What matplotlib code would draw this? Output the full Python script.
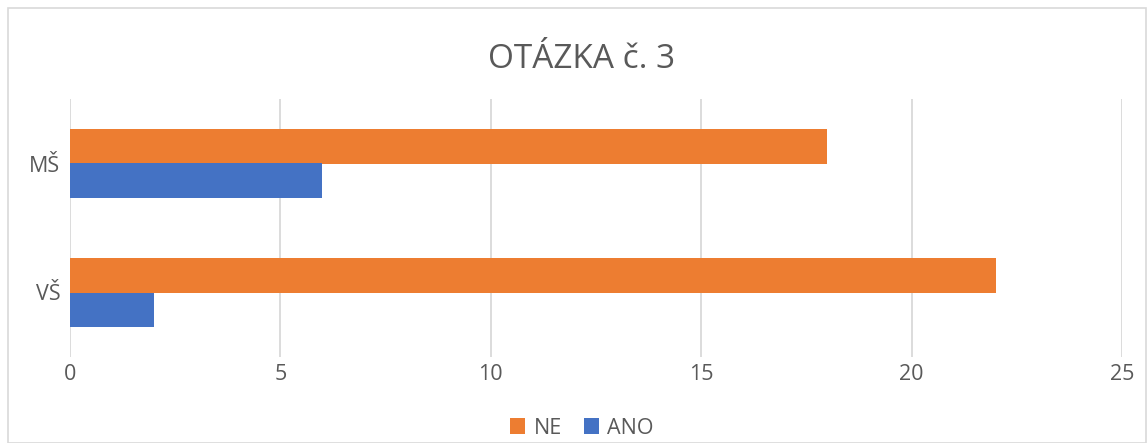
import matplotlib.pyplot as plt
from matplotlib.patches import Rectangle

categories = ['VŠ', 'MŠ']
ne_values = [22, 18]
ano_values = [2, 6]
x_ticks = [0, 5, 10, 15, 20, 25]

plt.rcParams['font.family'] = ['Open Sans', 'DejaVu Sans']
text_color = '#595959'

fig = plt.figure(figsize=(11.47, 4.43), dpi=100)
ax = fig.add_axes([70 / 1147, (443 - 357) / 443, (1122 - 70) / 1147, 258 / 443])

h = 0.264
pos = list(range(len(categories)))
ax.barh([p + h / 2 for p in pos], ne_values, height=h, color='#ED7D31', label='NE', zorder=3)
ax.barh([p - h / 2 for p in pos], ano_values, height=h, color='#4472C4', label='ANO', zorder=3)

ax.set_xlim(0, 25)
ax.set_ylim(-0.5, 1.5)
ax.set_xticks(x_ticks)
ax.set_yticks(pos)
ax.set_yticklabels(categories)
ax.tick_params(axis='both', length=0, labelsize=15.5, colors=text_color)
ax.tick_params(axis='x', pad=5)
ax.tick_params(axis='y', pad=7)
ax.grid(axis='x', color='#D9D9D9', linewidth=1.3, zorder=0)
for s in ax.spines.values():
    s.set_visible(False)

fig.text(582 / 1147, 1 - 60 / 443, 'OTÁZKA č. 3', ha='center', va='center',
         fontsize=24, color=text_color)

handles, labels = ax.get_legend_handles_labels()
fig.legend(handles, labels, loc='center', bbox_to_anchor=(582 / 1147, 1 - 428 / 443),
           ncol=2, frameon=False, fontsize=15.5, labelcolor=text_color,
           handlelength=0.7, handleheight=0.7, handletextpad=0.4, columnspacing=1.0)

fig.patches.append(Rectangle((8 / 1147, 0), 1138 / 1147, 435 / 443, transform=fig.transFigure,
                             fill=False, edgecolor='#D9D9D9', linewidth=1.2))

fig.savefig('out.png', dpi=100)
